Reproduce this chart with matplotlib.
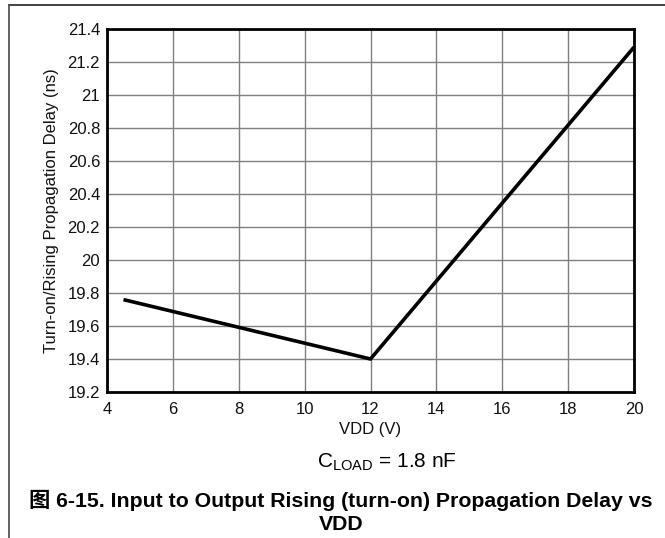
import matplotlib
matplotlib.use("Agg")
import matplotlib.pyplot as plt
from matplotlib.lines import Line2D

vdd = [4.5, 12, 20]
delay = [19.76, 19.40, 21.29]
xticks = [4, 6, 8, 10, 12, 14, 16, 18, 20]
yticks = [19.2, 19.4, 19.6, 19.8, 20, 20.2, 20.4, 20.6, 20.8, 21, 21.2, 21.4]
ytick_labels = ['19.2', '19.4', '19.6', '19.8', '20', '20.2', '20.4', '20.6',
                '20.8', '21', '21.2', '21.4']

plt.rcParams['font.family'] = ['Liberation Sans', 'Noto Sans CJK SC', 'DejaVu Sans']

W, H = 665, 538
fig = plt.figure(figsize=(W / 100, H / 100), dpi=100)
ax = fig.add_axes([107 / W, 1 - 392 / H, (634 - 107) / W, (392 - 29) / H])

ax.plot(vdd, delay, color='k', lw=2.6, solid_capstyle='butt')
ax.set_xlim(4, 20)
ax.set_ylim(19.2, 21.4)
ax.set_xticks(xticks)
ax.set_yticks(yticks)
ax.set_yticklabels(ytick_labels)
ax.tick_params(length=0, labelsize=12, colors='#111111')
ax.tick_params(axis='x', pad=7)
ax.tick_params(axis='y', pad=5)
ax.grid(True, color='#808080', lw=1)
for s in ax.spines.values():
    s.set_linewidth(2)
    s.set_color('k')

ax.set_xlabel('VDD (V)', fontsize=12, labelpad=4, color='#111111')
ax.set_ylabel('Turn-on/Rising Propagation Delay (ns)', fontsize=12, labelpad=6,
              color='#111111')

fig.text(387 / W, 1 - 462 / H, r'C$_\mathregular{LOAD}$ = 1.8 nF', fontsize=15,
         ha='center', va='center')
fig.text(341 / W, 1 - 500 / H,
         '图 6-15. Input to Output Rising (turn-on) Propagation Delay vs',
         fontsize=15.3, fontweight='bold', ha='center', va='center')
fig.text(341 / W, 1 - 524 / H, 'VDD',
         fontsize=15.3, fontweight='bold', ha='center', va='center')

# page frame lines
fig.add_artist(Line2D([9 / W, 1], [1 - 5 / H, 1 - 5 / H], color='#333333', lw=1.3))
fig.add_artist(Line2D([9 / W, 9 / W], [0, 1 - 5 / H], color='#555555', lw=1.3))

fig.savefig('out.png', dpi=100)
